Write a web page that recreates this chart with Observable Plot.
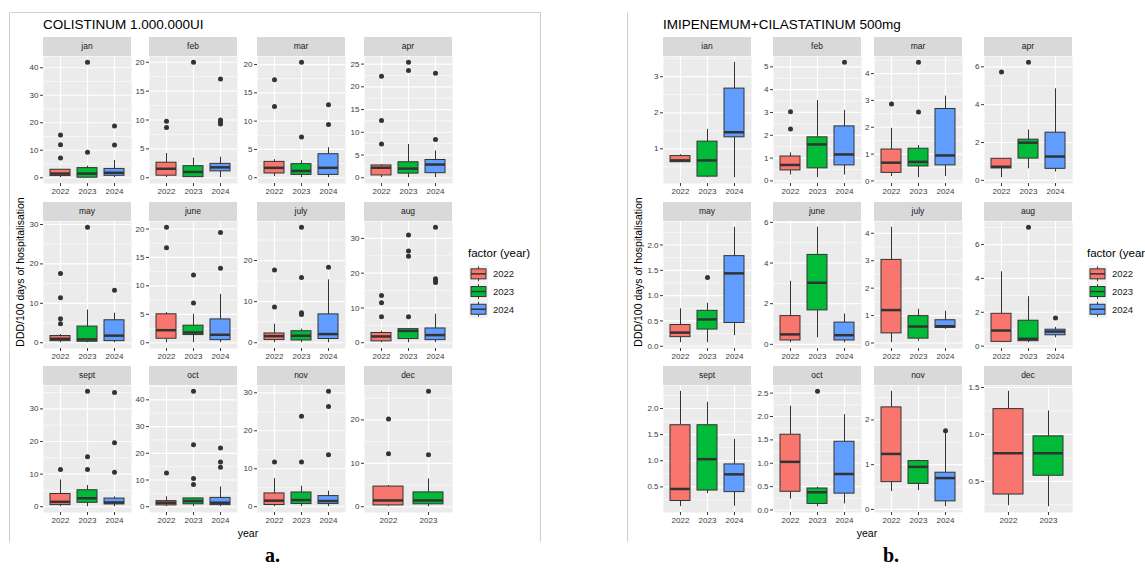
<!DOCTYPE html>
<html><head><meta charset="utf-8">
<script src="https://cdn.jsdelivr.net/npm/d3@7"></script>
<script src="https://cdn.jsdelivr.net/npm/@observablehq/plot@0.6"></script>
<style>
html,body{margin:0;padding:0;background:#fff;overflow:hidden;}
#root{position:relative;width:1145px;height:569px;overflow:hidden;font-family:"Liberation Sans",Arial,sans-serif;}
.strip{position:absolute;height:19px;background:#D9D9D9;color:#1A1A1A;font-size:8.5px;text-align:center;line-height:19px;}
.fac{position:absolute;}
#overlay{position:absolute;left:0;top:0;pointer-events:none;}
</style></head><body><div id="root"></div>
<script>
// ---------- DATA ----------
const years = ["2022", "2023", "2024"];
const yearColors = ["#F8766D", "#00BA38", "#619CFF"];

// Panel a: COLISTINUM 1.000.000UI
const titleA = "COLISTINUM 1.000.000UI";
const monthsA = ["jan","feb","mar","apr","may","june","july","aug","sept","oct","nov","dec"];
const loA  = [[0,0,0],[0,0,0],[0.2,0,0],[0,0,0],[0,0,0],[0,0,0],[0,0,0],[0,0,0],[0,0,0],[0,0,0],[0,0,0],[0,0]];
const q1A  = [[0.6,0,0.7],[0.35,0.1,1.1],[0.75,0.5,0.5],[0.5,0.9,1.0],[0.4,0.25,0.4],[0.7,1.35,0.45],[0.65,0.55,0.9],[0.4,1.05,0.75],[0.5,1.2,0.7],[0.5,0.9,0.6],[0.45,0.7,0.7],[0.3,0.55]];
const medA = [[1.5,1.5,1.8],[1.55,1.0,1.8],[1.75,1.2,1.75],[2.2,2.0,2.9],[1.0,0.85,1.8],[2.2,1.8,1.4],[1.6,1.7,2.1],[1.8,3.4,2.2],[1.5,2.6,1.3],[1.5,2.1,1.5],[1.6,1.75,1.5],[1.45,1.45]];
const q3A  = [[2.9,3.5,3.2],[2.6,2.0,2.4],[2.8,2.4,4.15],[2.7,3.4,3.9],[1.7,4.1,5.7],[5.0,3.0,4.1],[2.25,2.8,6.9],[2.8,3.9,4.1],[3.9,5.05,2.5],[2.1,3.1,3.3],[3.5,3.75,2.8],[4.65,3.3]];
const hiA  = [[3.0,4.2,6.3],[4.2,3.4,3.55],[3.2,3.0,5.3],[2.9,7.3,5.9],[2.1,8.3,7.5],[5.3,5.0,8.5],[4.5,3.3,15.3],[3.3,4.1,8.2],[8.2,6.5,3.0],[3.7,3.3,7.4],[7.4,5.4,4.1],[4.9,6.4]];
const outA = [
  [[15.5,12.0,7.2],[42,9.3],[18.8,11.9]],
  [[9.8,8.7],[20],[17.1,10.0,9.7,9.3]],
  [[17.3,12.6],[20.4,7.2],[12.9,9.4]],
  [[22.3,12.6,7.4],[25.4,23.6],[23.0,8.4]],
  [[17.6,11.4,6.1,4.8],[29.3],[13.3]],
  [[20.3,16.7],[11.9,7.0],[19.4,13.1]],
  [[17.7,8.7],[28.1,15.9,7.3,6.9],[18.4]],
  [[13.6,11.5,7.5],[31.0,26.4,24.9,7.5],[33.2,18.4,17.9,17.3]],
  [[11.4],[35.4,15.3,11.4],[35.0,19.6,10.6]],
  [[12.6],[43.2,23.2,10.6,8.3],[22.0,16.7,14.8]],
  [[11.8],[23.8,11.8],[30.4,26.4,13.7]],
  [[20.2,12.2],[26.6,12.0]]
];
const ticksA = [[0,10,20,30,40],[0,5,10,15,20],[0,5,10,15,20],[0,5,10,15,20,25],[0,10,20,30],[0,5,10,15,20],[0,10,20],[0,10,20,30],[0,10,20,30],[0,10,20,30,40],[0,10,20,30],[0,10,20]];

// Panel b: IMIPENEMUM+CILASTATINUM 500mg
const titleB = "IMIPENEMUM+CILASTATINUM 500mg";
const monthsB = ["ian","feb","mar","apr","may","june","july","aug","sept","oct","nov","dec"];
const loB  = [[0.63,0.2,0.2],[0.26,0.14,0.26],[0.16,0.12,0.16],[0.14,0.61,0.44],[0.07,0.07,0.21],[0.08,0.32,0.08],[0.01,0.06,0.5],[0.2,0.2,0.49],[0.12,0.37,0.13],[0.23,0.07,0.13],[0.4,0.42,0.06],[0.24,0.23]];
const q1B  = [[0.63,0.23,1.32],[0.46,0.55,0.68],[0.3,0.54,0.58],[0.63,1.15,0.61],[0.18,0.33,0.46],[0.19,1.67,0.19],[0.35,0.16,0.55],[0.25,0.29,0.64],[0.23,0.43,0.4],[0.39,0.13,0.35],[0.61,0.57,0.18],[0.36,0.56]];
const medB = [[0.68,0.68,1.46],[0.7,1.6,1.16],[0.68,0.71,0.95],[0.72,1.99,1.26],[0.27,0.53,1.44],[0.49,3.03,0.45],[1.2,0.6,0.61],[0.92,0.43,0.86],[0.46,1.03,0.74],[1.03,0.38,0.77],[1.24,0.95,0.7],[0.8,0.8]];
const q3B  = [[0.8,1.2,2.67],[1.07,1.91,2.39],[1.17,1.2,2.68],[1.14,2.15,2.52],[0.42,0.7,1.78],[1.39,4.4,1.07],[3.03,0.98,0.83],[1.91,1.5,0.97],[1.68,1.68,0.93],[1.61,0.46,1.46],[2.28,1.08,0.82],[1.27,0.98]];
const hiB  = [[0.84,1.54,3.4],[1.23,3.52,3.09],[1.96,1.32,3.16],[1.14,2.66,4.84],[0.74,0.85,2.35],[3.1,5.76,1.49],[4.22,1.23,1.16],[4.39,2.92,1.11],[2.33,2.12,1.41],[2.22,0.49,2.04],[2.64,1.1,1.7],[1.46,1.25]];
const outB = [
  [[],[],[]],
  [[3.03,2.28],[],[5.2]],
  [[2.87],[4.42,2.57],[]],
  [[5.73],[6.24],[]],
  [[],[1.36],[]],
  [[],[],[]],
  [[],[],[]],
  [[],[7.02],[1.66]],
  [[],[],[]],
  [[],[2.54],[]],
  [[],[],[1.76]],
  [[],[]]
];
const ticksB = [[1,2,3],[0,1,2,3,4,5],[0,1,2,3,4],[0,2,4,6],[0,0.5,1,1.5,2],[0,2,4,6],[0,1,2,3,4],[0,2,4,6],[0.5,1,1.5,2],[0,0.5,1,1.5,2,2.5],[0,1,2],[0.5,1,1.5]];

const yTitle = "DDD/100 days of hospitalisation";
const xTitle = "year";
const legendTitle = "factor (year)";

// ---------- LAYOUT ----------
const root = document.getElementById("root");
const PW = 88, PH = 127, ML = 30, MB = 14;
const stripTops = [37, 202, 366];
const colsA = [43, 149, 257, 364];
const colsB = [663, 773, 874, 984];

function drawFacet(month, lo, q1, med, q3, hi, out, ticks, left, stripTop) {
  const n = lo.length;
  const yrs = years.slice(0, n);
  const rows = yrs.map((y, i) => ({year: y, lo: lo[i], q1: q1[i], med: med[i], q3: q3[i], hi: hi[i]}));
  const pts = yrs.flatMap((y, i) => out[i].map(v => ({year: y, v})));
  const all = rows.flatMap(r => [r.lo, r.hi]).concat(pts.map(p => p.v));
  const mn = d3.min(all), mx = d3.max(all), pad = (mx - mn) * 0.05;
  const dom = [mn - pad, mx + pad];
  const step = ticks[1] - ticks[0];
  const minor = [];
  for (let t = ticks[0] - step / 2; t <= dom[1]; t += step) if (t >= dom[0]) minor.push(t);
  const fmt = ticks.some(t => !Number.isInteger(t)) ? d3.format(".1f") : d3.format("d");

  const strip = document.createElement("div");
  strip.className = "strip";
  strip.style.left = left + "px";
  strip.style.top = stripTop + "px";
  strip.style.width = PW + "px";
  strip.textContent = month;
  root.appendChild(strip);

  const p = Plot.plot({
    width: ML + PW, height: PH + MB,
    marginLeft: ML, marginRight: 0, marginTop: 0, marginBottom: MB,
    x: {type: "band", domain: yrs, paddingInner: 0.25, paddingOuter: 0.225},
    y: {domain: dom},
    color: {domain: years, range: yearColors},
    style: {background: "transparent", fontFamily: "'Liberation Sans', Arial, sans-serif", fontSize: "8px", color: "#3A3A3A", overflow: "visible", maxWidth: "none"},
    marks: [
      Plot.frame({fill: "#EBEBEB", stroke: null}),
      Plot.gridY(minor, {stroke: "#fff", strokeOpacity: 1, strokeWidth: 0.6}),
      Plot.gridY(ticks, {stroke: "#fff", strokeOpacity: 1, strokeWidth: 1.2}),
      Plot.gridX(yrs, {stroke: "#fff", strokeOpacity: 1, strokeWidth: 1.2}),
      Plot.axisY(ticks, {tickSize: 3, tickPadding: 2, tickFormat: fmt, label: null, color: "#3A3A3A"}),
      Plot.axisX(yrs, {tickSize: 3, tickPadding: 2, label: null, color: "#3A3A3A"}),
      Plot.ruleX(rows, {x: "year", y1: "lo", y2: "q1", stroke: "#333", strokeWidth: 1}),
      Plot.ruleX(rows, {x: "year", y1: "q3", y2: "hi", stroke: "#333", strokeWidth: 1}),
      Plot.barY(rows, {x: "year", y1: "q1", y2: "q3", fill: "year", stroke: "#333", strokeWidth: 1, inset: 0}),
      Plot.tickY(rows, {x: "year", y: "med", stroke: "#333", strokeWidth: 2.5}),
      Plot.dot(pts, {x: "year", y: "v", r: 2.5, fill: "#333", stroke: null})
    ]
  });
  p.classList.add("fac");
  p.style.left = (left - ML) + "px";
  p.style.top = (stripTop + 19) + "px";
  root.appendChild(p);
}

function drawPanel(months, lo, q1, med, q3, hi, out, ticks, cols) {
  months.forEach((m, i) => {
    const r = Math.floor(i / 4), c = i % 4;
    drawFacet(m, lo[i], q1[i], med[i], q3[i], hi[i], out[i], ticks[i], cols[c], stripTops[r]);
  });
}
drawPanel(monthsA, loA, q1A, medA, q3A, hiA, outA, ticksA, colsA);
drawPanel(monthsB, loB, q1B, medB, q3B, hiB, outB, ticksB, colsB);

// ---------- OVERLAY (titles, frames, legends) ----------
const svg = d3.select(root).append("svg").attr("id", "overlay").attr("width", 1145).attr("height", 569)
  .style("font-family", "'Liberation Sans', Arial, sans-serif");
svg.append("path").attr("d", "M9.5,542V12.5H540.5V542").attr("fill", "none").attr("stroke", "#CFCFCF");
svg.append("path").attr("d", "M627.5,542V12.5").attr("fill", "none").attr("stroke", "#CFCFCF");

function panelText(title, titleX, yTitleX, yearX, legX, keyX, labX) {
  svg.append("text").attr("x", titleX).attr("y", 29).attr("font-size", 13.5).attr("fill", "#000").text(title);
  svg.append("text").attr("transform", `translate(${yTitleX},272) rotate(-90)`).attr("text-anchor", "middle")
    .attr("dominant-baseline", "central").attr("font-size", 10.5).attr("fill", "#000").text(yTitle);
  svg.append("text").attr("x", yearX).attr("y", 537).attr("text-anchor", "middle").attr("font-size", 10.5).attr("fill", "#000").text(xTitle);
  svg.append("text").attr("x", legX).attr("y", 257).attr("font-size", 11.5).attr("fill", "#000").text(legendTitle);
  const kh = 17.7, ky0 = 265, kw = 19;
  svg.append("rect").attr("x", keyX).attr("y", ky0).attr("width", kw).attr("height", kh * 3).attr("fill", "#F2F2F2");
  years.forEach((y, i) => {
    const top = ky0 + i * kh, cx = keyX + kw / 2, cy = top + kh / 2;
    const g = svg.append("g");
    g.append("line").attr("x1", cx).attr("x2", cx).attr("y1", top + 1.5).attr("y2", top + kh - 1.5).attr("stroke", "#333");
    g.append("rect").attr("x", keyX + 2).attr("y", cy - 5).attr("width", kw - 4).attr("height", 10)
      .attr("fill", yearColors[i]).attr("stroke", "#333").attr("stroke-width", 1);
    g.append("line").attr("x1", keyX + 2).attr("x2", keyX + kw - 2).attr("y1", cy).attr("y2", cy).attr("stroke", "#333").attr("stroke-width", 1.5);
    svg.append("text").attr("x", labX).attr("y", cy).attr("dominant-baseline", "central").attr("font-size", 9.5).attr("fill", "#1A1A1A").text(y);
  });
}
panelText(titleA, 43, 20, 248, 468, 469, 493);
panelText(titleB, 663, 638, 867, 1087, 1088, 1112);

svg.append("text").attr("x", 265).attr("y", 562).attr("font-family", "'Liberation Serif', 'Times New Roman', serif")
  .attr("font-weight", "bold").attr("font-size", 20).attr("fill", "#000").text("a.");
svg.append("text").attr("x", 883).attr("y", 562).attr("font-family", "'Liberation Serif', 'Times New Roman', serif")
  .attr("font-weight", "bold").attr("font-size", 20).attr("fill", "#000").text("b.");
</script>
</body></html>
